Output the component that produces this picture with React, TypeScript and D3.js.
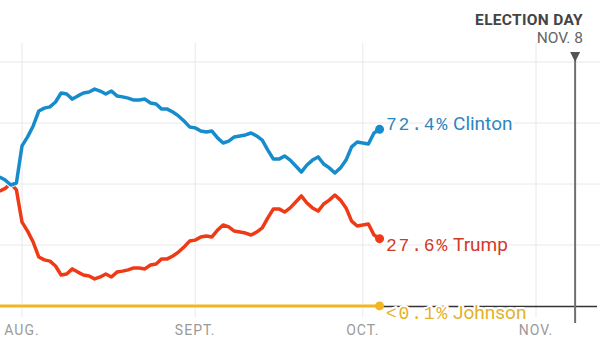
import React from "react";
import * as d3 from "d3";

const startDate = new Date(2016, 6, 28);
const clinton = [52.9, 51.6, 49.6, 50.4, 65.6, 69.3, 73.8, 79.9, 81.1, 81.6, 83.6, 87.3, 86.9, 84.8, 86.1, 87.3, 87.7, 88.9, 88.1, 86.9, 88.1, 86.1, 85.7, 85.2, 84.4, 84.4, 84.8, 83.2, 82.8, 80.7, 80.7, 79.5, 77.9, 75.8, 73.4, 73.0, 71.7, 71.3, 71.7, 68.9, 66.8, 67.6, 69.3, 69.7, 70.1, 70.9, 69.7, 68.0, 63.9, 60.2, 60.2, 61.5, 59.8, 57.4, 54.9, 57.8, 59.8, 61.1, 58.2, 56.6, 54.5, 56.6, 59.8, 65.2, 67.2, 66.8, 66.4, 70.9, 72.4];
const trump = [47.1, 48.2, 50.2, 47.6, 34.4, 30.7, 26.2, 20.1, 18.9, 18.4, 16.4, 12.7, 13.1, 15.2, 13.9, 12.7, 12.3, 11.1, 11.9, 13.1, 11.9, 13.9, 14.3, 14.8, 15.6, 15.6, 15.2, 16.8, 17.2, 19.3, 19.3, 20.5, 22.1, 24.2, 26.6, 27.0, 28.3, 28.7, 28.3, 31.1, 33.2, 32.4, 30.7, 30.3, 29.9, 29.1, 30.3, 32.0, 36.1, 39.8, 39.8, 38.5, 40.2, 42.6, 45.1, 42.2, 40.2, 38.9, 41.8, 43.4, 45.5, 43.4, 40.2, 34.8, 32.8, 33.2, 33.6, 29.1, 27.6];
const johnson = [0.05, 0.05, 0.05, 0.05, 0.05, 0.05, 0.05, 0.05, 0.05, 0.05, 0.05, 0.05, 0.05, 0.05, 0.05, 0.05, 0.05, 0.05, 0.05, 0.05, 0.05, 0.05, 0.05, 0.05, 0.05, 0.05, 0.05, 0.05, 0.05, 0.05, 0.05, 0.05, 0.05, 0.05, 0.05, 0.05, 0.05, 0.05, 0.05, 0.05, 0.05, 0.05, 0.05, 0.05, 0.05, 0.05, 0.05, 0.05, 0.05, 0.05, 0.05, 0.05, 0.05, 0.05, 0.05, 0.05, 0.05, 0.05, 0.05, 0.05, 0.05, 0.05, 0.05, 0.05, 0.05, 0.05, 0.05, 0.05, 0.05];

const monthTicks = [new Date(2016, 7, 1), new Date(2016, 8, 1), new Date(2016, 9, 1), new Date(2016, 10, 1)];
const monthLabels = ["AUG.", "SEPT.", "OCT.", "NOV."];
const yTicks = [25, 50, 75, 100];
const electionDay = new Date(2016, 10, 8);
const candidates = ["Clinton", "Trump", "Johnson"];
const finalLabels = ["72.4%", "27.6%", "<0.1%"];

const dates = clinton.map((_, i) => d3.timeDay.offset(startDate, i));

export default function App() {
  const W = 600, H = 358;
  const x = d3.scaleTime().domain([monthTicks[0], monthTicks[3]]).range([22, 536]);
  const y = d3.scaleLinear().domain([0, 100]).range([306, 62]);
  const line = d3.line<number>().x((_, i) => x(dates[i])).y((v) => y(v));
  const series = [
    { name: candidates[2], vals: johnson, color: "#f2b620", text: "#e3b12c", w: 3, label: finalLabels[2], dy: 13 },
    { name: candidates[1], vals: trump, color: "#ef3a17", text: "#d23a28", w: 3.5, label: finalLabels[1], dy: 12 },
    { name: candidates[0], vals: clinton, color: "#178ccc", text: "#2d86c0", w: 3.5, label: finalLabels[0], dy: 1 },
  ];
  const last = clinton.length - 1;
  const ex = x(electionDay);
  const halo = { paintOrder: "stroke", stroke: "#fff", strokeWidth: 4, strokeLinejoin: "round" } as any;
  return (
    <svg width={W} height={H} style={{ position: "absolute", left: 0, top: 0, background: "#fff" }}>
      {yTicks.map((t) => (
        <line key={t} x1={0} x2={W} y1={y(t)} y2={y(t)} stroke="#e8e8e8" strokeWidth={1} />
      ))}
      {monthTicks.map((d, i) => (
        <g key={i}>
          <line x1={x(d)} x2={x(d)} y1={43} y2={317} stroke="#e8e8e8" strokeWidth={1} />
          <text x={x(d)} y={335} textAnchor="middle" fontFamily="Roboto" fontSize={14} letterSpacing={1} fill="#9a9a9a">
            {monthLabels[i]}
          </text>
        </g>
      ))}
      <line x1={0} x2={597} y1={y(0) + 0.5} y2={y(0) + 0.5} stroke="#333" strokeWidth={1.5} />
      <line x1={ex} x2={ex} y1={60} y2={323} stroke="#707070" strokeWidth={2} />
      <path d={`M${ex - 5},52 L${ex + 5},52 L${ex},62 Z`} fill="#555" />
      <text x={583} y={25} textAnchor="end" fontFamily="Roboto" fontWeight={700} fontSize={15.5} letterSpacing={0.3} fill="#444">ELECTION DAY</text>
      <text x={583} y={43} textAnchor="end" fontFamily="Roboto" fontSize={15.5} fill="#666">NOV. 8</text>
      {series.map((s) => (
        <g key={s.name}>
          <path d={line(s.vals) || ""} fill="none" stroke="#fff" strokeWidth={s.w + 2} strokeLinejoin="round" />
          <path d={line(s.vals) || ""} fill="none" stroke={s.color} strokeWidth={s.w} strokeLinejoin="round" />
          <circle cx={x(dates[last])} cy={y(s.vals[last])} r={4.5} fill={s.color} />
        </g>
      ))}
      {series.map((s) => (
        <text key={s.name + "l"} x={386} y={y(s.vals[last]) + s.dy} fill={s.text} style={halo}>
          <tspan fontFamily="Liberation Mono" fontSize={18} letterSpacing={1.8}>{s.label}</tspan>
          <tspan dx={4} fontFamily="Roboto" fontSize={19}>{s.name}</tspan>
        </text>
      ))}
    </svg>
  );
}
